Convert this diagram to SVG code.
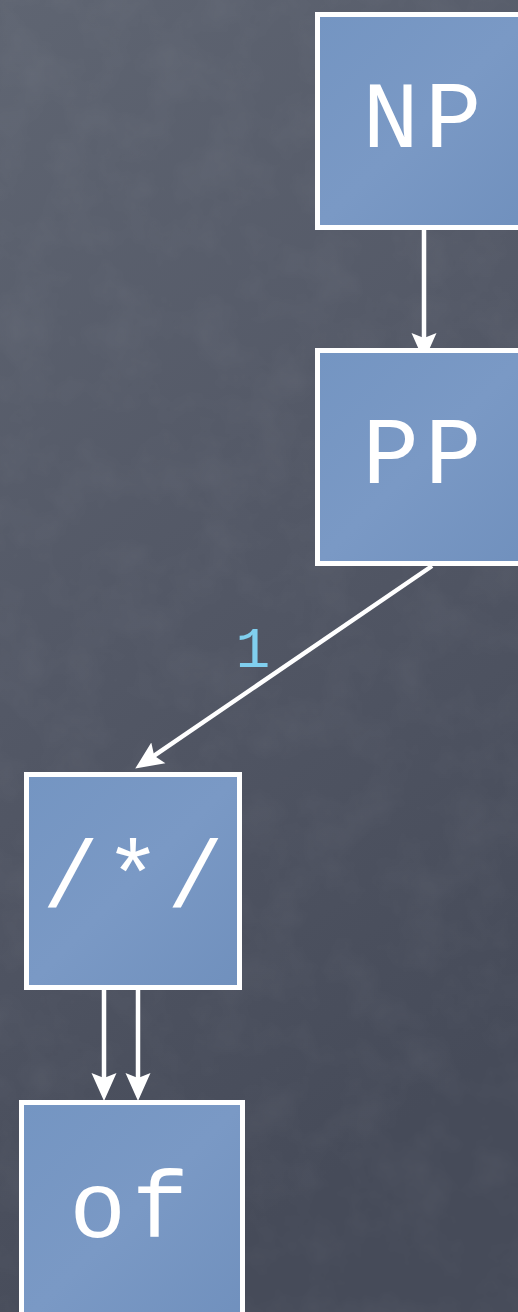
<svg xmlns="http://www.w3.org/2000/svg" width="518" height="1312" viewBox="0 0 518 1312">
  <defs>
    <linearGradient id="bg" x1="0" y1="0" x2="0.3" y2="1">
      <stop offset="0" stop-color="#5f6572"/>
      <stop offset="0.5" stop-color="#535866"/>
      <stop offset="1" stop-color="#464b59"/>
    </linearGradient>
    <linearGradient id="boxfill" x1="0" y1="0" x2="1" y2="1">
      <stop offset="0" stop-color="#7495c2"/>
      <stop offset="0.5" stop-color="#7a99c5"/>
      <stop offset="1" stop-color="#7090bd"/>
    </linearGradient>
    <filter id="grain" x="0" y="0" width="100%" height="100%">
      <feTurbulence type="fractalNoise" baseFrequency="0.02" numOctaves="4" seed="3" result="n"/>
      <feColorMatrix in="n" type="matrix" values="0 0 0 0 1  0 0 0 0 1  0 0 0 0 1  0.9 0 0 0 -0.35"/>
      <feComposite in2="SourceGraphic" operator="in"/>
    </filter>
    <marker id="arrow" markerUnits="userSpaceOnUse" viewBox="0 0 28 28" markerWidth="28" markerHeight="28" refX="17" refY="14" orient="auto">
      <path d="M0,1.5 L28,14 L0,26.5 L5,14 z" fill="#ffffff"/>
    </marker>
    <style>
      .node rect { fill: url(#boxfill); stroke: #ffffff; stroke-width: 5; }
      .node text { font-family: "Courier New", "Liberation Mono", monospace; font-size: 94px; letter-spacing: 6px; fill: #ffffff; text-anchor: middle; }
      .edge { stroke: #ffffff; stroke-width: 4.5; fill: none; marker-end: url(#arrow); }
      .elabel { font-family: "Courier New", "Liberation Mono", monospace; font-size: 58px; fill: #80cfee; text-anchor: middle; }
    </style>
  </defs>
  <rect x="0" y="0" width="518" height="1312" fill="url(#bg)"/>
  <rect x="0" y="0" width="518" height="1312" fill="#000" opacity="0.08" filter="url(#grain)"/>

  <g id="connectors">
    <line class="edge" x1="424" y1="230" x2="424" y2="350"/>
    <line class="edge" x1="432" y1="566" x2="144.3" y2="762.4"/>
    <line class="edge" x1="104" y1="990" x2="104" y2="1090"/>
    <line class="edge" x1="138" y1="990" x2="138" y2="1090"/>
    <text class="elabel" x="253" y="667">1</text>
  </g>

  <g id="node-NP" class="node">
    <rect x="317.5" y="14.5" width="213" height="213"/>
    <text x="425" y="147">NP</text>
  </g>
  <g id="node-PP" class="node">
    <rect x="317.5" y="350.5" width="213" height="213"/>
    <text x="425" y="483">PP</text>
  </g>
  <g id="node-star" class="node">
    <rect x="26.5" y="774.5" width="213" height="213"/>
    <text x="136" y="907">/*/</text>
  </g>
  <g id="node-of" class="node">
    <rect x="21.5" y="1102.5" width="221" height="221"/>
    <text x="132" y="1237">of</text>
  </g>
</svg>
